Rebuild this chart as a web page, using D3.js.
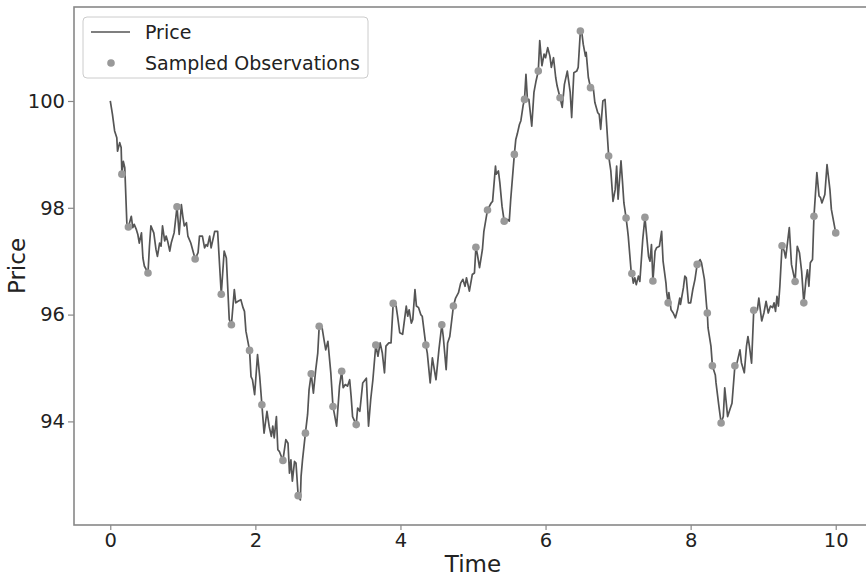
<!DOCTYPE html>
<html>
<head>
<meta charset="utf-8">
<script src="https://cdn.jsdelivr.net/npm/d3@7"></script>
<style>
  body { margin: 0; background: #fff; }
  svg { display: block; font-family: "DejaVu Sans", sans-serif; }
</style>
</head>
<body>
<svg width="866" height="576"></svg>
<script>
// price path
const time = [
  0, 0.03, 0.06, 0.09, 0.10, 0.13, 0.15, 0.16, 0.18, 0.20, 0.23, 0.25, 0.29, 0.31, 0.33, 0.36, 0.38, 0.40, 0.43, 0.45,
  0.47, 0.52, 0.54, 0.56, 0.60, 0.63, 0.65, 0.68, 0.70, 0.72, 0.75, 0.77, 0.79, 0.82, 0.84, 0.88, 0.92, 0.95, 0.98, 1.00,
  1.02, 1.05, 1.07, 1.11, 1.17, 1.21, 1.23, 1.27, 1.30, 1.32, 1.34, 1.37, 1.39, 1.44, 1.48, 1.53, 1.57, 1.60, 1.64, 1.67,
  1.71, 1.73, 1.76, 1.80, 1.83, 1.85, 1.87, 1.92, 1.94, 1.96, 1.99, 2.03, 2.06, 2.09, 2.12, 2.16, 2.19, 2.22, 2.24, 2.26,
  2.29, 2.31, 2.33, 2.35, 2.38, 2.42, 2.45, 2.47, 2.49, 2.51, 2.54, 2.56, 2.59, 2.62, 2.63, 2.65, 2.69, 2.72, 2.74, 2.77,
  2.80, 2.83, 2.86, 2.88, 2.92, 2.95, 2.97, 3.00, 3.04, 3.07, 3.12, 3.16, 3.19, 3.21, 3.24, 3.27, 3.30, 3.32, 3.34, 3.39,
  3.41, 3.44, 3.48, 3.53, 3.56, 3.59, 3.62, 3.66, 3.69, 3.72, 3.75, 3.78, 3.80, 3.84, 3.87, 3.90, 3.94, 3.96, 3.99, 4.03,
  4.08, 4.10, 4.12, 4.15, 4.17, 4.20, 4.22, 4.25, 4.28, 4.30, 4.35, 4.37, 4.41, 4.44, 4.49, 4.53, 4.57, 4.59, 4.63, 4.65,
  4.68, 4.73, 4.76, 4.80, 4.83, 4.86, 4.89, 4.91, 4.95, 4.99, 5.02, 5.04, 5.06, 5.09, 5.13, 5.15, 5.20, 5.25, 5.27, 5.31,
  5.32, 5.35, 5.37, 5.40, 5.43, 5.48, 5.50, 5.52, 5.57, 5.59, 5.61, 5.64, 5.66, 5.69, 5.71, 5.73, 5.75, 5.77, 5.81, 5.84,
  5.87, 5.90, 5.92, 5.95, 5.98, 6.00, 6.03, 6.06, 6.08, 6.11, 6.14, 6.16, 6.20, 6.23, 6.26, 6.30, 6.34, 6.36, 6.39, 6.43,
  6.45, 6.48, 6.50, 6.52, 6.55, 6.56, 6.59, 6.62, 6.66, 6.68, 6.72, 6.74, 6.76, 6.79, 6.82, 6.87, 6.90, 6.93, 6.96, 6.98,
  7.00, 7.04, 7.06, 7.08, 7.11, 7.13, 7.14, 7.18, 7.19, 7.21, 7.23, 7.25, 7.28, 7.30, 7.34, 7.37, 7.39, 7.42, 7.44, 7.46,
  7.48, 7.51, 7.53, 7.57, 7.60, 7.62, 7.66, 7.67, 7.69, 7.70, 7.73, 7.76, 7.79, 7.82, 7.85, 7.86, 7.90, 7.92, 7.94, 7.97,
  8.00, 8.03, 8.06, 8.09, 8.13, 8.15, 8.19, 8.22, 8.23, 8.24, 8.28, 8.30, 8.34, 8.35, 8.39, 8.42, 8.45, 8.47, 8.51, 8.54,
  8.57, 8.61, 8.64, 8.68, 8.70, 8.74, 8.77, 8.79, 8.81, 8.84, 8.87, 8.92, 8.94, 8.98, 9.01, 9.04, 9.07, 9.10, 9.13, 9.15,
  9.17, 9.19, 9.21, 9.23, 9.26, 9.29, 9.31, 9.36, 9.39, 9.44, 9.47, 9.50, 9.53, 9.56, 9.59, 9.61, 9.63, 9.65, 9.68, 9.70,
  9.74, 9.77, 9.79, 9.81, 9.85, 9.88, 9.92, 9.94, 10.00
];
const price = [
  100.00, 99.75, 99.44, 99.31, 99.06, 99.22, 99.13, 98.63, 98.87, 98.75, 97.66, 97.64, 97.84, 97.63, 97.69, 97.59, 97.50, 97.34, 97.53, 97.06,
  96.91, 96.78, 97.28, 97.66, 97.53, 97.22, 97.09, 97.34, 97.28, 97.66, 97.38, 97.47, 97.38, 97.19, 97.34, 97.53, 98.02, 97.50, 98.06, 97.84,
  97.66, 97.72, 97.47, 97.34, 97.04, 97.16, 97.47, 97.47, 97.25, 97.31, 97.28, 97.47, 97.25, 97.56, 97.56, 96.38, 97.19, 97.06, 95.91, 95.81,
  96.47, 96.22, 96.25, 96.28, 96.13, 96.06, 95.69, 95.33, 94.84, 94.78, 94.50, 95.25, 94.84, 94.31, 93.78, 94.19, 93.91, 93.72, 93.91, 93.69,
  94.09, 93.47, 93.44, 93.37, 93.27, 93.66, 93.59, 93.03, 93.28, 92.88, 93.25, 93.22, 92.61, 92.53, 92.97, 93.28, 93.78, 94.13, 94.59, 94.89,
  94.53, 94.94, 95.28, 95.78, 95.75, 95.50, 95.34, 95.50, 94.91, 94.28, 93.91, 94.66, 94.94, 94.63, 94.69, 94.66, 94.78, 94.47, 94.09, 93.94,
  94.25, 94.19, 94.72, 94.81, 93.91, 94.41, 94.78, 95.43, 95.22, 95.47, 95.28, 94.91, 95.41, 95.47, 95.47, 96.21, 96.16, 95.97, 95.66, 95.63,
  96.16, 95.97, 96.09, 95.84, 95.91, 96.47, 96.16, 96.13, 96.00, 95.97, 95.43, 95.28, 94.72, 95.19, 94.78, 95.34, 95.81, 95.59, 94.97, 95.47,
  95.59, 96.16, 96.31, 96.41, 96.59, 96.66, 96.53, 96.69, 96.44, 96.75, 96.78, 97.26, 97.13, 96.88, 97.22, 97.56, 97.96, 98.09, 98.12, 98.78,
  98.63, 98.69, 98.47, 98.03, 97.75, 97.78, 97.75, 98.16, 99.00, 99.28, 99.38, 99.56, 99.63, 99.91, 100.03, 100.50, 100.03, 100.03, 99.53, 100.16,
  100.38, 100.56, 101.13, 100.66, 100.88, 100.81, 101.00, 100.84, 100.63, 100.81, 100.44, 100.28, 100.06, 99.88, 100.31, 100.56, 100.16, 99.69, 100.53, 100.56,
  100.63, 101.31, 101.28, 101.06, 100.84, 100.91, 100.44, 100.25, 100.22, 99.97, 99.78, 99.75, 99.47, 100.00, 100.03, 98.97, 98.69, 98.12, 98.34, 98.78,
  98.16, 98.88, 98.50, 98.09, 97.81, 97.59, 97.47, 96.81, 96.77, 96.59, 96.69, 96.56, 96.72, 96.62, 97.41, 97.82, 97.53, 97.09, 97.00, 97.31,
  96.63, 97.19, 97.25, 97.28, 97.56, 97.00, 96.59, 96.41, 96.22, 96.41, 96.09, 96.03, 95.94, 96.09, 96.31, 96.19, 96.50, 96.72, 96.69, 96.22,
  96.22, 96.47, 96.66, 96.94, 97.03, 96.97, 96.66, 96.16, 96.03, 95.75, 95.41, 95.04, 94.87, 94.72, 94.28, 93.97, 94.09, 94.63, 94.09, 94.22,
  94.34, 95.04, 95.10, 95.34, 95.10, 94.91, 95.41, 95.59, 95.41, 95.09, 96.08, 96.09, 96.31, 95.88, 96.03, 96.25, 96.03, 96.16, 96.13, 96.22,
  96.06, 96.34, 96.16, 96.53, 97.29, 97.19, 97.06, 97.63, 96.94, 96.62, 97.28, 97.16, 96.81, 96.22, 96.66, 96.84, 96.53, 96.97, 97.03, 97.84,
  98.66, 98.22, 98.19, 98.09, 98.25, 98.81, 98.34, 97.97, 97.53
];

// sampled observations
const obsTime = [
  0.16, 0.25, 0.52, 0.92, 1.17, 1.53, 1.67, 1.92, 2.09, 2.38, 2.59, 2.69, 2.77, 2.88, 3.07, 3.19, 3.39, 3.66, 3.90, 4.35,
  4.57, 4.73, 5.04, 5.20, 5.43, 5.57, 5.71, 5.90, 6.20, 6.48, 6.62, 6.87, 7.11, 7.19, 7.37, 7.48, 7.69, 8.09, 8.23, 8.30,
  8.42, 8.61, 8.87, 9.26, 9.44, 9.56, 9.70, 10.00
];
const obsPrice = [
  98.63, 97.64, 96.78, 98.02, 97.04, 96.38, 95.81, 95.33, 94.31, 93.27, 92.61, 93.78, 94.89, 95.78, 94.28, 94.94, 93.94, 95.43, 96.21, 95.43,
  95.81, 96.16, 97.26, 97.96, 97.75, 99.00, 100.03, 100.56, 100.06, 101.31, 100.25, 98.97, 97.81, 96.77, 97.82, 96.63, 96.22, 96.94, 96.03, 95.04,
  93.97, 95.04, 96.08, 97.29, 96.62, 96.22, 97.84, 97.53
];

const xTicks = [0, 2, 4, 6, 8, 10];
const yTicks = [94, 96, 98, 100];

var svg = d3.select("svg");
var plotL = 74, plotR = 872, plotT = 7, plotB = 525;

var x = d3.scaleLinear().domain([-0.5, 10.5]).range([plotL, plotR]);
var y = d3.scaleLinear().domain([92.06, 101.76]).range([plotB, plotT]);

var pts = time.map((t, i) => [t, price[i]]);
var obs = obsTime.map((t, i) => [t, obsPrice[i]]);

svg.append("clipPath").attr("id", "plotclip")
  .append("rect")
  .attr("x", plotL).attr("y", plotT)
  .attr("width", plotR - plotL).attr("height", plotB - plotT);

// axes
var xAxis = svg.append("g")
  .attr("transform", "translate(0," + plotB + ")")
  .call(d3.axisBottom(x).tickValues(xTicks).tickSize(5).tickPadding(3).tickFormat(d3.format("d")));
var yAxis = svg.append("g")
  .attr("transform", "translate(" + plotL + ",0)")
  .call(d3.axisLeft(y).tickValues(yTicks).tickSize(6).tickPadding(3).tickFormat(d3.format("d")));

[xAxis, yAxis].forEach(function(g) {
  g.select(".domain").remove();
  g.selectAll(".tick line").attr("stroke", "#888").attr("stroke-width", 1.2);
  g.selectAll(".tick text").attr("fill", "#222").style("font-size", "19.5px")
    .style("font-family", "DejaVu Sans, sans-serif");
});

// frame (right spine falls outside the window)
svg.append("rect")
  .attr("x", plotL).attr("y", plotT)
  .attr("width", plotR - plotL).attr("height", plotB - plotT)
  .attr("fill", "none").attr("stroke", "#888").attr("stroke-width", 1.6);

var plot = svg.append("g").attr("clip-path", "url(#plotclip)");

plot.append("path")
  .datum(pts)
  .attr("fill", "none")
  .attr("stroke", "#555")
  .attr("stroke-width", 1.7)
  .attr("stroke-linejoin", "round")
  .attr("d", d3.line().x(d => x(d[0])).y(d => y(d[1])));

plot.selectAll("circle.obs")
  .data(obs)
  .enter().append("circle")
  .attr("class", "obs")
  .attr("cx", d => x(d[0]))
  .attr("cy", d => y(d[1]))
  .attr("r", 3.8)
  .attr("fill", "#999");

// axis titles
svg.append("text")
  .attr("x", (plotL + plotR) / 2).attr("y", 572)
  .attr("text-anchor", "middle")
  .attr("fill", "#222")
  .style("font-size", "23px")
  .text("Time");

svg.append("text")
  .attr("transform", "translate(25," + ((plotT + plotB) / 2) + ") rotate(-90)")
  .attr("text-anchor", "middle")
  .attr("fill", "#222")
  .style("font-size", "23px")
  .text("Price");

// legend
var legend = svg.append("g");
legend.append("rect")
  .attr("x", 83).attr("y", 17).attr("width", 285).attr("height", 61)
  .attr("rx", 4)
  .attr("fill", "#fff").attr("fill-opacity", 0.8)
  .attr("stroke", "#ccc").attr("stroke-width", 1);
legend.append("line")
  .attr("x1", 91).attr("x2", 130).attr("y1", 32).attr("y2", 32)
  .attr("stroke", "#555").attr("stroke-width", 1.7);
legend.append("circle")
  .attr("cx", 111).attr("cy", 63).attr("r", 3.8).attr("fill", "#999");
legend.append("text")
  .attr("x", 145).attr("y", 39)
  .attr("fill", "#222").style("font-size", "19px")
  .text("Price");
legend.append("text")
  .attr("x", 145).attr("y", 70)
  .attr("fill", "#222").style("font-size", "19px")
  .text("Sampled Observations");
</script>
</body>
</html>
